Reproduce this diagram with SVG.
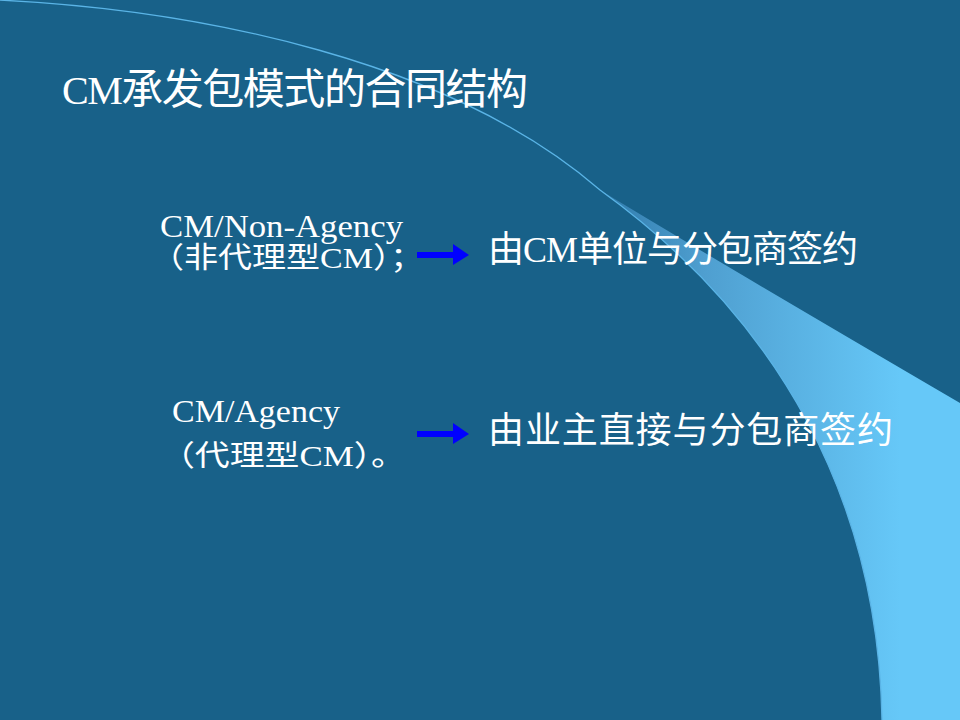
<svg xmlns="http://www.w3.org/2000/svg" width="960" height="720" viewBox="0 0 960 720">
  <defs>
    <linearGradient id="swoosh" gradientUnits="userSpaceOnUse" x1="600" y1="0" x2="900" y2="0">
      <stop offset="0" stop-color="#2f7aab"/>
      <stop offset="0.35" stop-color="#4f9fd0"/>
      <stop offset="1" stop-color="#66c8f8"/>
    </linearGradient>
    <style>
      .t { fill: #ffffff; font-family: "Liberation Serif", "Noto Sans CJK SC", serif; }
      .arrow { fill: #0000ff; }
    </style>
  </defs>
  <rect x="0" y="0" width="960" height="720" fill="#186189"/>
  <g id="decoration">
    <path d="M600,190 C780,320 878,500 882,720 L960,720 L960,403 Q690,245 600,190 Z" fill="url(#swoosh)"/>
    <path d="M-2,0 C200,10 450,60 600,190 C780,320 878,500 882,720" fill="none" stroke="#5ab4e6" stroke-width="1.3"/>
  </g>
  <g id="title">
    <text class="t" x="62" y="104" font-size="42" textLength="466" lengthAdjust="spacing"><tspan font-size="40">CM</tspan>承发包模式的合同结构</text>
  </g>
  <g id="node-non-agency">
    <text class="t" x="160" y="237" font-size="32" textLength="243" lengthAdjust="spacingAndGlyphs">CM/Non-Agency</text>
    <text class="t" x="150" y="268" font-size="29" textLength="274" lengthAdjust="spacingAndGlyphs">（非代理型CM）；</text>
  </g>
  <g id="node-agency">
    <text class="t" x="172" y="422" font-size="32" textLength="168" lengthAdjust="spacingAndGlyphs">CM/Agency</text>
    <text class="t" x="160" y="466" font-size="29" textLength="246" lengthAdjust="spacingAndGlyphs">（代理型CM）。</text>
  </g>
  <g id="node-result-1">
    <text class="t" x="488" y="262" font-size="36" textLength="370" lengthAdjust="spacing">由CM单位与分包商签约</text>
  </g>
  <g id="node-result-2">
    <text class="t" x="488" y="443" font-size="36" textLength="405" lengthAdjust="spacing">由业主直接与分包商签约</text>
  </g>
  <g id="connectors">
    <path class="arrow" d="M417,252 L453,252 L453,244 L469,255 L453,265 L453,258 L417,258 Z"/>
    <path class="arrow" d="M417,431 L453,431 L453,423 L469,434 L453,444 L453,437 L417,437 Z"/>
  </g>
</svg>
